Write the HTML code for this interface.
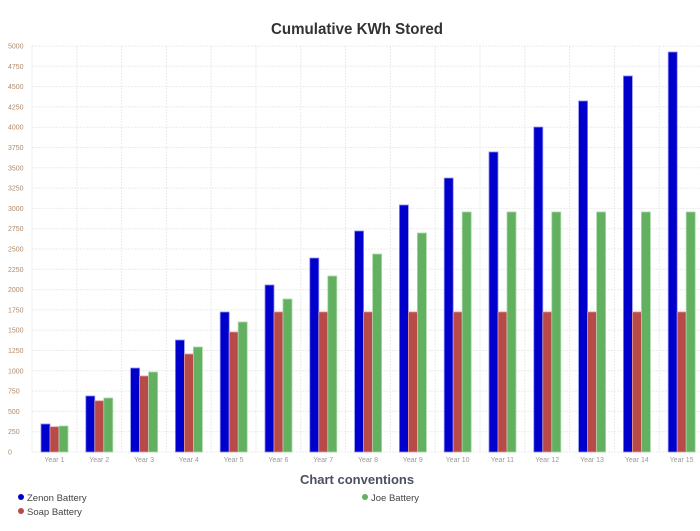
<!DOCTYPE html>
<html><head><meta charset="utf-8"><style>body{margin:0;background:#fff}svg{display:block}</style></head>
<body>
<svg width="700" height="531" viewBox="0 0 700 531" xmlns="http://www.w3.org/2000/svg" font-family="Liberation Sans, sans-serif">
<text x="357" y="34" text-anchor="middle" font-size="15.5" font-weight="bold" fill="#333" textLength="172" lengthAdjust="spacingAndGlyphs">Cumulative KWh Stored</text>
<g id="grid" stroke="#ebebeb" stroke-width="1" stroke-dasharray="2,1"></g>
<g id="bars"></g>
<g id="labels"></g>
<text x="357" y="484" text-anchor="middle" font-size="13" font-weight="bold" fill="#4a5060">Chart conventions</text>
<circle cx="21" cy="497" r="3" fill="#0000cc"/><text x="27" y="501" font-size="9.5" fill="#444">Zenon Battery</text>
<circle cx="21" cy="511" r="3" fill="#b84a4a"/><text x="27" y="515" font-size="9.5" fill="#444">Soap Battery</text>
<circle cx="365" cy="497" r="3" fill="#63b060"/><text x="371" y="501" font-size="9.5" fill="#444">Joe Battery</text>
</svg>
<script>
var ns="http://www.w3.org/2000/svg";
function el(p,t,a,txt){var e=document.createElementNS(ns,t);for(var k in a)e.setAttribute(k,a[k]);if(txt!=null)e.textContent=txt;document.getElementById(p).appendChild(e);}
var y0=452,k=406/5000,L=32,st=44.8;
for(var v=0;v<=5000;v+=250){var y=y0-v*k;el('grid','line',{x1:L,x2:700,y1:y,y2:y});el('labels','text',{x:8,y:y+2.5,'font-size':7,fill:'#b08a6a'},v);}
for(var i=0;i<=15;i++){var x=L+st*i;el('grid','line',{x1:x,x2:x,y1:46,y2:y0});}
var Z=[345,690,1034,1379,1724,2057,2389,2722,3042,3374,3695,4002,4323,4631,4926];
var S=[311,631,936,1207,1478,1725,1725,1725,1725,1725,1725,1725,1725,1725,1725];
var J=[320,665,985,1293,1601,1884,2167,2438,2697,2956,2956,2956,2956,2956,2956];
for(var i=0;i<15;i++){var x=L+st*i+9;
[[Z,'#0000cc','#8c8cf0'],[S,'#b84a4a','#dba0a0'],[J,'#63b060','#a9d8a6']].forEach(function(s,j){var h=s[0][i]*k;
el('bars','rect',{x:x+j*9,y:y0-h,width:9,height:h,fill:s[1],stroke:s[2],'stroke-width':0.8});});
el('labels','text',{x:L+st*i+st/2,y:462,'text-anchor':'middle','font-size':7,fill:'#999'},'Year '+(i+1));}
</script>
</body></html>
